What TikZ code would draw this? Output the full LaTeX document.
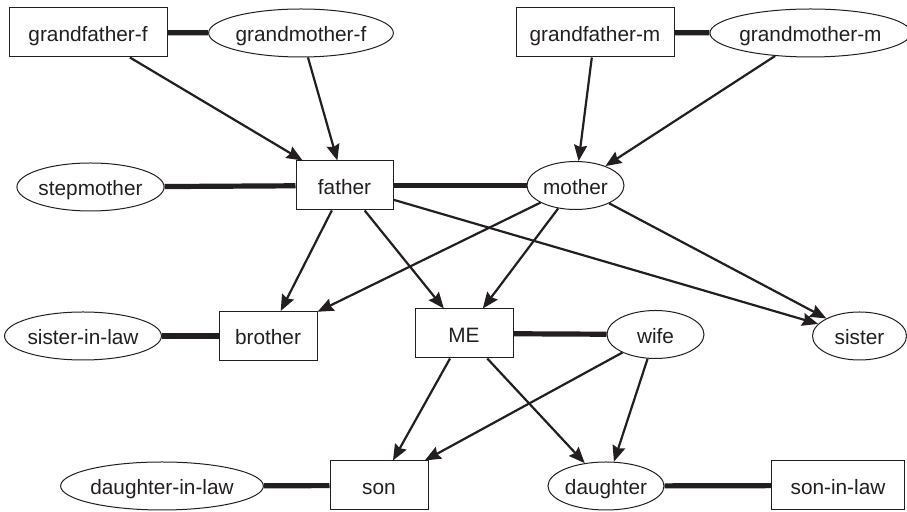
\documentclass[tikz,border=0pt]{standalone}
\usepackage{fontspec}
\setmainfont{Liberation Sans}
\usetikzlibrary{arrows.meta,shapes.geometric}
\definecolor{ink}{HTML}{231F20}
\begin{document}
\begin{tikzpicture}[x=0.5pt,y=-0.5pt,
  every node/.style={font=\fontsize{10.4pt}{12pt}\selectfont, text=ink, inner sep=0pt, text height=9pt, text depth=0pt},
  boxnode/.style={draw=ink, line width=0.5pt, rectangle, minimum height=24.5pt},
  ovalnode/.style={draw=ink, line width=0.5pt, ellipse, minimum height=24pt},
  marry/.style={draw=ink, line width=2.6pt},
  child/.style={draw=ink, line width=1.1pt, -{Stealth[length=8pt,width=6.5pt,inset=1pt]}}]
\useasboundingbox (0,0) rectangle (907,512);
% nodes
\node[boxnode, minimum width=79pt] (gff) at (88,32.5) {grandfather-f};
\node[ovalnode, minimum width=79pt] (gmf) at (301,33) {grandmother-f};
\node[boxnode, minimum width=79pt] (gfm) at (595,32.5) {grandfather-m};
\node[ovalnode, minimum width=79.5pt] (gmm) at (810.5,33) {grandmother-m};
\node[ovalnode, minimum width=73.5pt] (step) at (90.5,187) {stepmother};
\node[boxnode, minimum width=48.5pt] (father) at (344.5,185.5) {father};
\node[ovalnode, minimum width=48.5pt] (mother) at (575.5,185.5) {mother};
\node[ovalnode, minimum width=73pt] (sil) at (83,336) {sister-in-law};
\node[boxnode, minimum width=49pt] (brother) at (268,336) {brother};
\node[boxnode, minimum width=49pt] (me) at (464,333.5) {ME};
\node[ovalnode, minimum width=48.5pt] (wife) at (655.5,334.5) {wife};
\node[ovalnode, minimum width=47pt] (sister) at (859.5,336) {sister};
\node[ovalnode, minimum width=79pt] (dil) at (162,486) {daughter-in-law};
\node[boxnode, minimum width=49pt] (son) at (379,485.5) {son};
\node[ovalnode, minimum width=49pt] (daughter) at (606,486) {daughter};
\node[boxnode, minimum width=66.5pt] (sonil) at (838,485.5) {son-in-law};
% marriages
\draw[marry] (gff) -- (gmf);
\draw[marry] (gfm) -- (gmm);
\draw[marry] (step) -- (father);
\draw[marry] (father) -- (mother);
\draw[marry] (sil) -- (brother);
\draw[marry] (me) -- (wife);
\draw[marry] (dil) -- (son);
\draw[marry] (daughter) -- (sonil);
% children
\draw[child] (gff) -- (father);
\draw[child] (gmf) -- (father);
\draw[child] (gfm) -- (mother);
\draw[child] (gmm) -- (mother);
\draw[child] (father) -- (brother);
\draw[child] (father) -- (me);
\draw[child] (father) -- (sister);
\draw[child] (mother) -- (brother);
\draw[child] (mother) -- (me);
\draw[child] (mother) -- (sister);
\draw[child] (me) -- (son);
\draw[child] (me) -- (daughter);
\draw[child] (wife) -- (son);
\draw[child] (wife) -- (daughter);
\end{tikzpicture}
\end{document}
